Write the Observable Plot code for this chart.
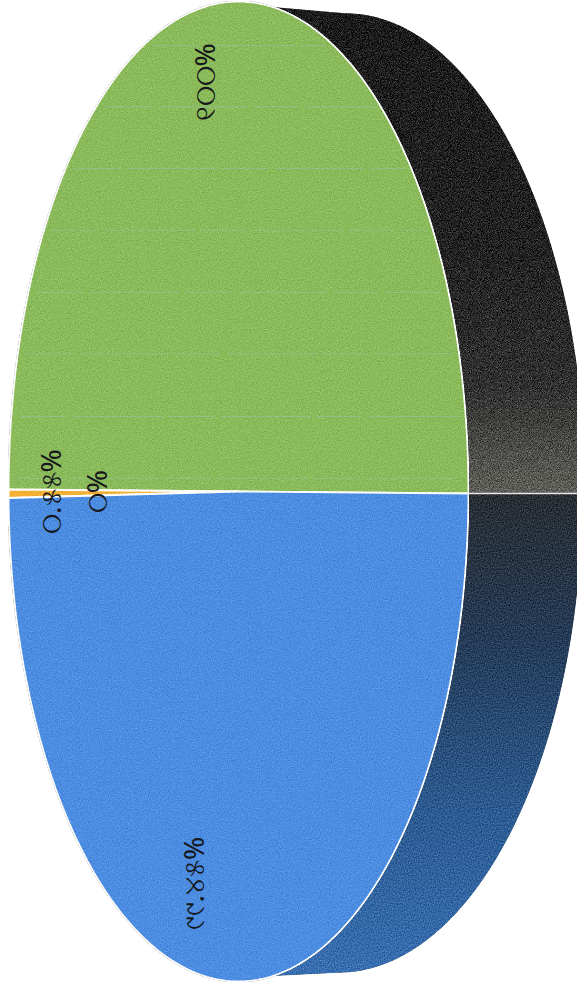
<!DOCTYPE html>
<html lang="or">
<head>
<meta charset="utf-8">
<style>html,body{margin:0;padding:0;background:#fff}svg{display:block}</style>
<script src="https://cdn.jsdelivr.net/npm/d3@7"></script>
<script src="https://cdn.jsdelivr.net/npm/@observablehq/plot@0.6"></script>
</head>
<body>
<div id="chart"></div>
<script>
// Slice order runs counter-clockwise from the right-hand edge of the disc.
const categories = ["A", "B", "C", "D"];
const values = [100, 0, 0.55, 99.45];
const colors = ["#8bba5a", "#4c8de2", "#f2b035", "#4c8de2"];
const labels = ["୧୦୦%", "୦%", "୦.୫୫%", "୯୯.୪୫%"];
const labelX = [-0.143, -0.609, -0.809, -0.187];
const labelY = [0.835, 0, 0, -0.80];
const lineY = [0.91, 0.785, 0.659, 0.533, 0.406, 0.281, 0.153, 0.027];

const tilt = -0.004;
const outerTop = {cx: 0.465, rx: 1.043, ry: 0.976};
const outerBottom = {cx: 0.435, rx: 1.061, ry: 0.982};

const arcs = d3.pie().sort(null).value(d => d.value)
  .startAngle(tilt).endAngle(tilt + 2 * Math.PI)(
    categories.map((name, i) => ({name, value: values[i]})));

const sample = (a0, a1, n = 240) => d3.range(n + 1).map(i => a0 + (a1 - a0) * i / n);
const onFace = a => [Math.cos(a), Math.sin(a)];
const onOuter = o => a => [o.cx + o.rx * Math.cos(a), o.ry * Math.sin(a)];

const sliceRows = arcs.filter(d => d.data.value > 0).flatMap(d => {
  const pts = [[0, 0], ...sample(d.startAngle, d.endAngle).map(onFace), [0, 0]];
  return pts.map(([x, y]) => ({x, y, name: d.data.name}));
});

const touch = 1.42;
const sideGreen = [
  ...sample(tilt, touch).map(onFace),
  ...sample(Math.PI / 2, tilt).map(onOuter(outerTop))
].map(([x, y]) => ({x, y}));
const sideBlue = [
  ...sample(-touch, tilt).map(onFace),
  ...sample(tilt, -Math.PI / 2).map(onOuter(outerBottom))
].map(([x, y]) => ({x, y}));

const rows = labels.map((text, i) => ({text, x: labelX[i], y: labelY[i]}));

const chart = Plot.plot({
  width: 577,
  height: 988,
  margin: 0,
  style: {background: "#fff"},
  x: {domain: [-1, 1], range: [8, 468], axis: null},
  y: {domain: [1, -1], range: [1, 981], axis: null},
  color: {domain: categories, range: colors},
  marks: [
    Plot.line(sideGreen, {x: "x", y: "y", fill: "url(#sideGreen)", stroke: "none"}),
    Plot.line(sideBlue, {x: "x", y: "y", fill: "url(#sideBlue)", stroke: "none"}),
    Plot.ruleY([tilt], {x1: 1, x2: 1.6, stroke: "#e8e8e8", strokeWidth: 1.6}),
    Plot.line(sliceRows, {x: "x", y: "y", z: "name", fill: "name", stroke: "#fff", strokeWidth: 1.9}),
    Plot.ruleY(lineY, {y: d => d, x1: d => -Math.sqrt(1 - d * d) + 0.04, x2: d => Math.sqrt(1 - d * d) - 0.03,
      stroke: "#9cc6c0", strokeWidth: 0.8, strokeOpacity: 0.55, strokeDasharray: "46 7 90 5"}),
    Plot.text(rows, {x: "x", y: "y", text: "text", rotate: -90, fontSize: 28, fill: "#16181c",
      fontFamily: "'Noto Sans','DejaVu Sans',sans-serif"})
  ]
});

const svg = d3.select(chart);
const defs = svg.insert("defs", ":first-child");
const gradient = (id, stops) => {
  const g = defs.append("linearGradient").attr("id", id)
    .attr("x1", 0).attr("y1", 0).attr("x2", 0).attr("y2", 1);
  stops.forEach(([o, c]) => g.append("stop").attr("offset", o).attr("stop-color", c));
};
gradient("sideGreen", [[0, "#1b1b1b"], [0.5, "#222222"], [0.78, "#303030"], [1, "#60605a"]]);
gradient("sideBlue", [[0, "#292d33"], [0.3, "#253b56"], [0.65, "#2c5a90"], [1, "#386fb2"]]);

const grain = (id, freq, amount) => {
  const f = defs.append("filter").attr("id", id)
    .attr("x", 0).attr("y", 0).attr("width", 1).attr("height", 1)
    .attr("color-interpolation-filters", "sRGB");
  f.append("feTurbulence").attr("type", "fractalNoise").attr("baseFrequency", freq)
    .attr("numOctaves", 2).attr("seed", 4).attr("result", "n");
  f.append("feColorMatrix").attr("in", "n").attr("type", "matrix")
    .attr("values", "0.4 0.4 0.2 0 0  0.4 0.4 0.2 0 0  0.4 0.4 0.2 0 0  0 0 0 0 1").attr("result", "g");
  f.append("feComposite").attr("in", "SourceGraphic").attr("in2", "g").attr("operator", "arithmetic")
    .attr("k1", 0).attr("k2", 1).attr("k3", amount).attr("k4", -amount / 2).attr("result", "m");
  f.append("feComposite").attr("in", "m").attr("in2", "SourceAlpha").attr("operator", "in");
};
grain("grainFace", 0.9, 0.4);
grain("grainSideA", 1.1, 1.0);
grain("grainSideB", 1.0, 0.6);
const groups = chart.querySelectorAll(":scope > g");
groups[0].setAttribute("filter", "url(#grainSideA)");
groups[1].setAttribute("filter", "url(#grainSideB)");
groups[3].setAttribute("filter", "url(#grainFace)");

document.getElementById("chart").append(chart);
</script>
</body>
</html>
